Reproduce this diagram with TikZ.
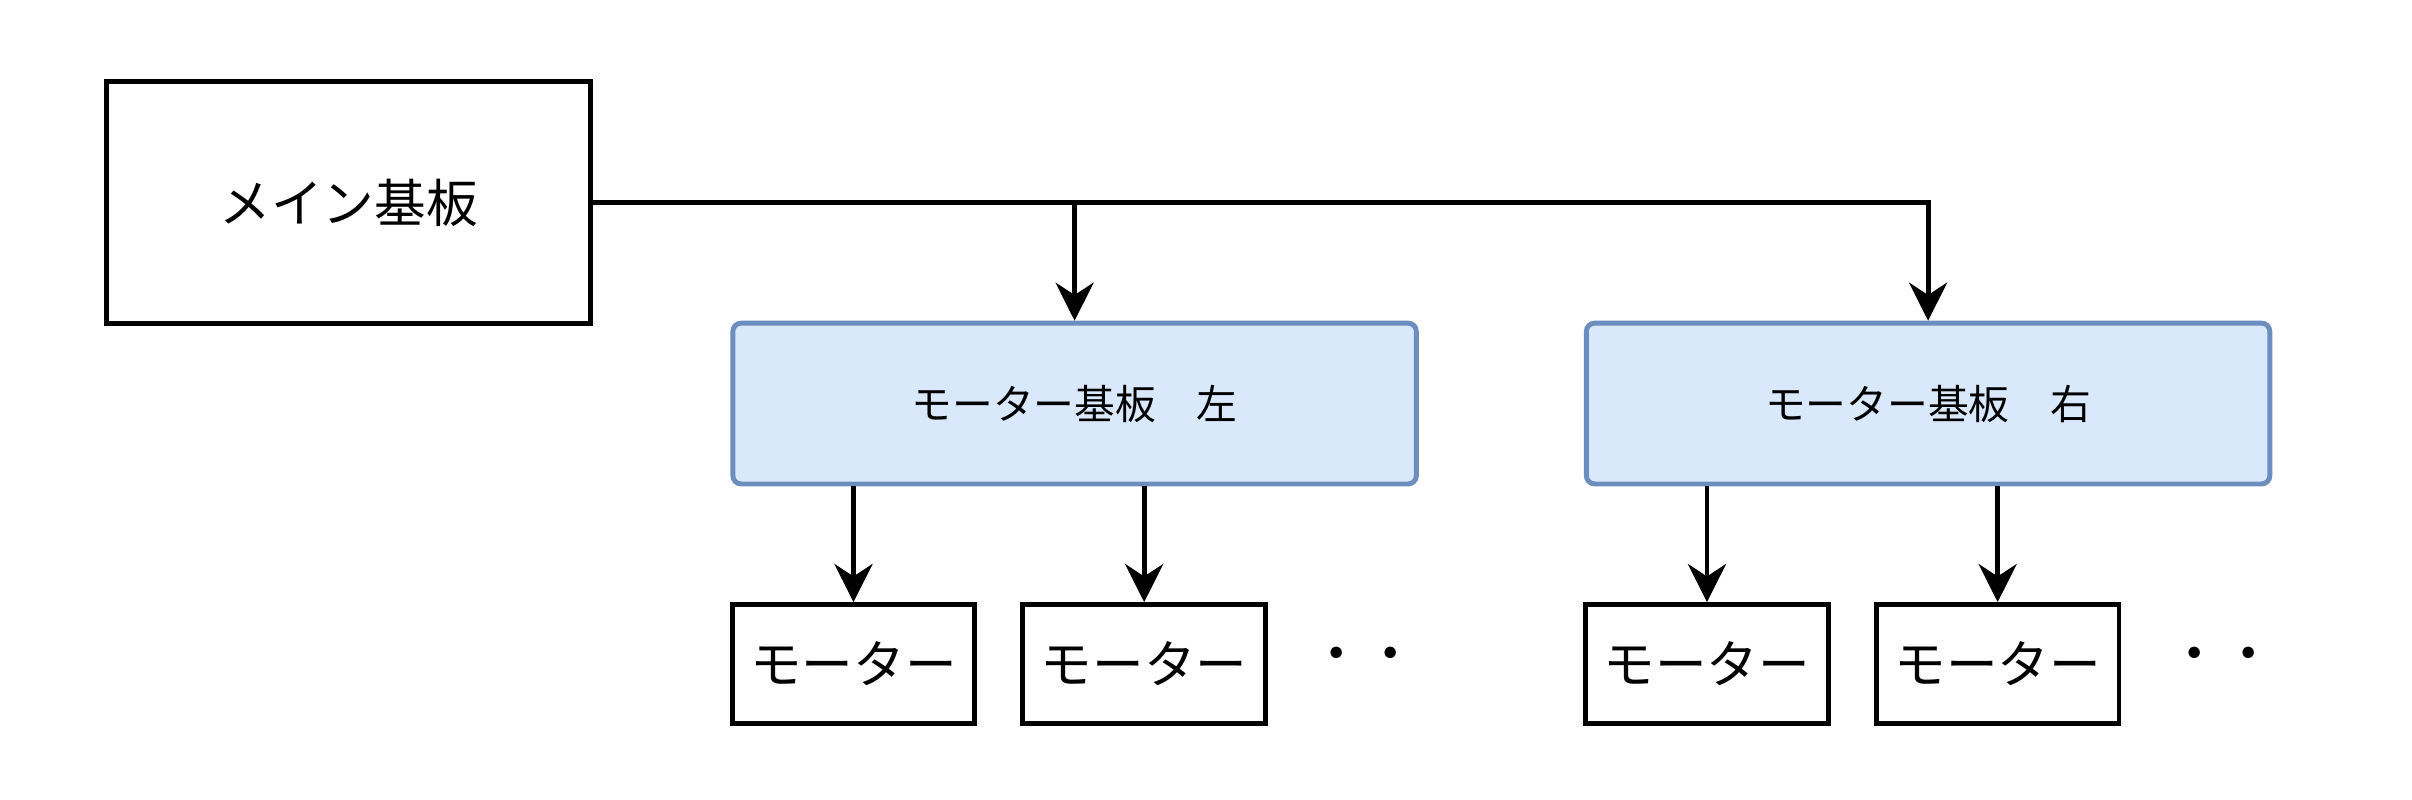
\documentclass[tikz,border=0pt]{standalone}
\usepackage{fontspec}
\setmainfont{Noto Sans CJK JP}
\usepackage{tikz}
\usetikzlibrary{arrows.meta}
\definecolor{board-fill}{RGB}{218,232,252}
\definecolor{board-line}{RGB}{108,142,191}
\tikzset{
    main/.style = {draw, line width=0.9pt, minimum width=3.13cm, minimum height=1.56cm, font=\fontsize{9.5}{11}\selectfont},
    board/.style = {draw=board-line, fill=board-fill, line width=0.9pt, rounded corners=1.5pt, minimum width=4.42cm, minimum height=1.04cm, font=\fontsize{7.5}{9}\selectfont},
    motor/.style = {draw, line width=0.9pt, minimum width=1.56cm, minimum height=0.77cm, font=\fontsize{9.5}{11}\selectfont},
    link/.style = {line width=0.9pt, -{Stealth[length=7pt,width=7pt]}},
}
\begin{document}
\begin{tikzpicture}
\useasboundingbox (0,0) rectangle (15.6,-5.17);

\node[main] (Main) at (2.255,-1.31) {メイン基板};

\node[board] (L) at (6.95,-2.61) {モーター基板\quad 左};
\node[board] (R) at (12.47,-2.61) {モーター基板\quad 右};

\node[motor] (L1) at (5.52,-4.295) {モーター};
\node[motor] (L2) at (7.40,-4.295) {モーター};
\node (Ldots) at (8.82,-4.27) {・・};

\node[motor] (R1) at (11.04,-4.295) {モーター};
\node[motor] (R2) at (12.92,-4.295) {モーター};
\node (Rdots) at (14.37,-4.27) {・・};

\draw[link] (Main.east) -| (R.north);
\coordinate (split) at (L.north |- Main.east);
\draw[link] (split) -- (L.north);

\draw[link] (L1.north |- L.south) -- (L1.north);
\draw[link] (L2.north |- L.south) -- (L2.north);
\draw[link] (R1.north |- R.south) -- (R1.north);
\draw[link] (R2.north |- R.south) -- (R2.north);

\end{tikzpicture}
\end{document}
